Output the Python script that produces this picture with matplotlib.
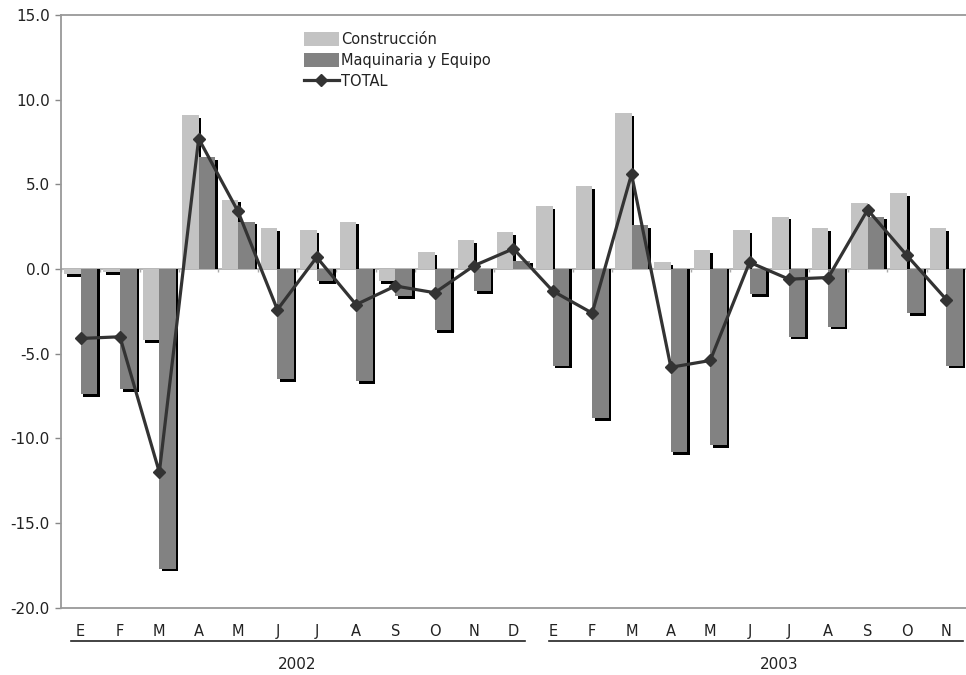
import matplotlib
matplotlib.use("Agg")
import matplotlib.pyplot as plt
import matplotlib.transforms as mtransforms
import numpy as np

plt.rcParams['font.family'] = ['DejaVu Sans']

months = ["E", "F", "M", "A", "M", "J", "J", "A", "S", "O", "N", "D",
          "E", "F", "M", "A", "M", "J", "J", "A", "S", "O", "N"]
years = ["2002", "2003"]
construccion = [-0.3, -0.2, -4.2, 9.1, 4.1, 2.4, 2.3, 2.8, -0.7, 1.0, 1.7, 2.2,
                3.7, 4.9, 9.2, 0.4, 1.1, 2.3, 3.1, 2.4, 3.9, 4.5, 2.4]
maquinaria = [-7.4, -7.1, -17.7, 6.6, 2.8, -6.5, -0.7, -6.6, -1.6, -3.6, -1.3, 0.5,
              -5.7, -8.8, 2.6, -10.8, -10.4, -1.5, -4.0, -3.4, 3.1, -2.6, -5.7]
total = [-4.1, -4.0, -12.0, 7.7, 3.4, -2.4, 0.7, -2.1, -1.0, -1.4, 0.2, 1.2,
         -1.3, -2.6, 5.6, -5.8, -5.4, 0.4, -0.6, -0.5, 3.5, 0.8, -1.8]

fig = plt.figure(figsize=(9.66, 6.75), dpi=100)
ax = fig.add_axes([0.0631, 0.0997, 0.9369, 0.878])

x = np.arange(len(months))
w = 0.42
sdx = 0.065   # shadow shift to the right (category units)
sdy = 0.16    # shadow shift downward (value units)

c_vals = np.array(construccion)
m_vals = np.array(maquinaria)

ax.axhline(0, color='#aaaaaa', lw=1.2, zorder=1)
ax.vlines(np.arange(-0.5, len(months)), 0, -0.2, color='#aaaaaa', lw=1, zorder=1)

ax.bar(x - w / 2 + sdx, c_vals - sdy, width=w, color='black', zorder=2)
b1 = ax.bar(x - w / 2, c_vals, width=w, color='#c3c3c3', label='Construcción', zorder=2.1)
ax.bar(x + w / 2 + sdx, m_vals - sdy, width=w, color='black', zorder=2.2)
b2 = ax.bar(x + w / 2, m_vals, width=w, color='#828282', label='Maquinaria y Equipo', zorder=2.3)

ln, = ax.plot(x, total, color='#333333', lw=2.3, marker='D', markersize=6.5,
              markerfacecolor='#333333', markeredgecolor='#333333', label='TOTAL', zorder=5)

ax.set_xlim(-0.5, len(months) - 0.5)
ax.set_ylim(-20, 15)
yt = np.arange(-20, 15.1, 5)
ax.set_yticks(yt)
ax.set_yticklabels([f"{v:.1f}" for v in yt])
ax.set_xticks(x)
ax.set_xticklabels(months)
ax.tick_params(axis='x', length=0, pad=12, labelsize=10.5, colors='#222222')
ax.tick_params(axis='y', length=4, width=1, color='#888888', pad=4, labelsize=11, labelcolor='#222222')

for s in ['left', 'bottom', 'top']:
    ax.spines[s].set_color('#999999')
    ax.spines[s].set_linewidth(1.3)
ax.spines['right'].set_visible(False)

trans = mtransforms.blended_transform_factory(ax.transData, ax.transAxes)
ax.plot([-0.25, 11.3], [-0.056, -0.056], color='#222222', lw=1.2, transform=trans, clip_on=False)
ax.plot([11.9, 22.42], [-0.056, -0.056], color='#222222', lw=1.2, transform=trans, clip_on=False)
ax.text(5.5, -0.095, years[0], transform=trans, ha='center', va='center', fontsize=11, color='#222222')
ax.text(17.75, -0.095, years[1], transform=trans, ha='center', va='center', fontsize=11, color='#222222')

leg = ax.legend(handles=[b1, b2, ln], loc='upper left', bbox_to_anchor=(0.262, 0.982),
                frameon=False, fontsize=10.5, handlelength=2.4, handleheight=1.1,
                handletextpad=0.15, labelspacing=0.42, borderaxespad=0)
for t in leg.get_texts():
    t.set_color('#222222')

fig.savefig("out.png", dpi=100)
